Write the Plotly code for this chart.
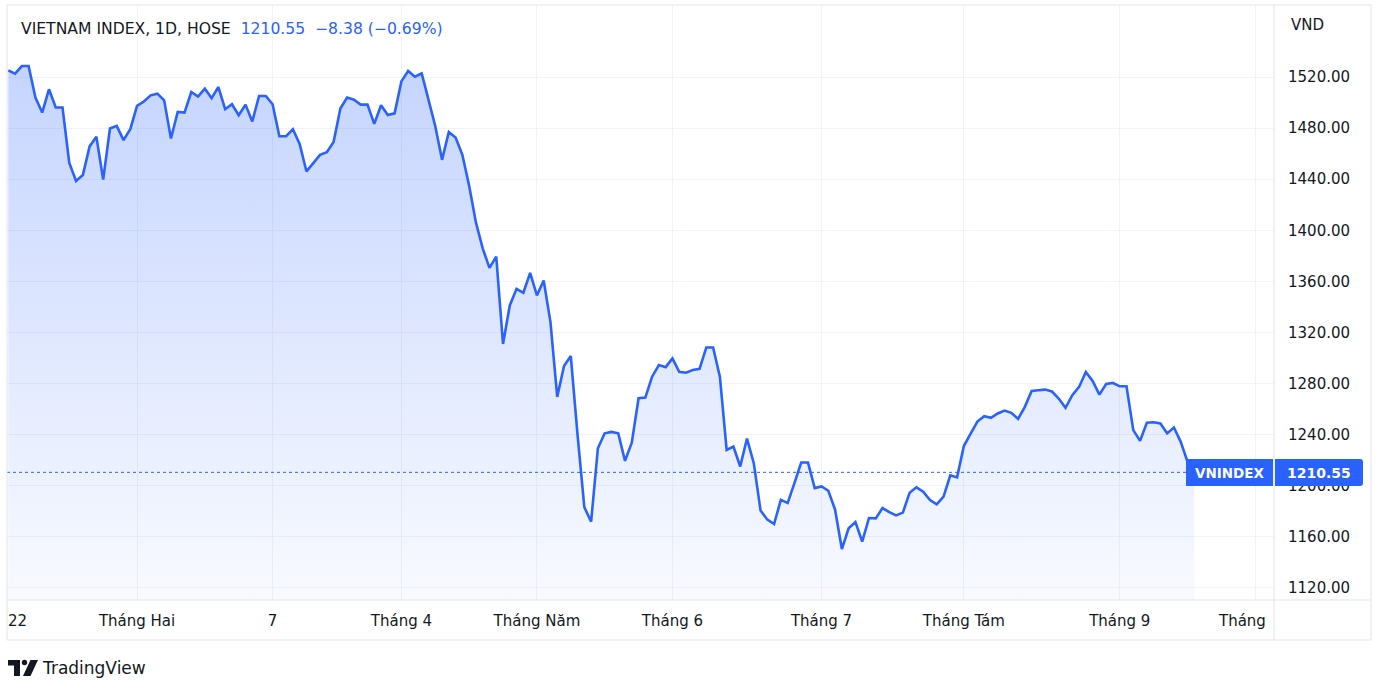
import plotly.graph_objects as go

# ---------------- data ----------------
values = [
    1525.2, 1522.6, 1528.6, 1528.6, 1503.9, 1492.2, 1510.4, 1496.1, 1496.1, 1452.7,
    1438.6, 1443.3, 1465.7, 1473.2, 1439.7, 1479.7, 1481.8, 1470.6, 1479.2, 1497.4,
    1500.8, 1505.7, 1507.0, 1501.8, 1471.9, 1492.7, 1492.2, 1508.3, 1504.7, 1510.9,
    1503.4, 1512.2, 1494.8, 1498.7, 1490.1, 1498.4, 1485.2, 1505.2, 1505.2, 1498.7,
    1473.7, 1473.7, 1479.2, 1467.5, 1446.1, 1452.6, 1459.1, 1461.2, 1469.2, 1495.3,
    1503.9, 1502.3, 1498.4, 1498.4, 1483.3, 1497.9, 1490.3, 1491.6, 1516.6, 1524.7,
    1520.3, 1522.9, 1503.3, 1481.7, 1455.2, 1477.0, 1472.6, 1459.1, 1434.9, 1406.2,
    1385.9, 1370.6, 1379.4, 1311.0, 1341.2, 1354.2, 1351.1, 1366.7, 1349.0, 1360.7,
    1328.2, 1269.6, 1293.8, 1301.6, 1239.7, 1183.2, 1172.0, 1229.4, 1241.1, 1242.2,
    1241.1, 1219.5, 1233.8, 1268.5, 1269.0, 1285.4, 1294.5, 1292.9, 1299.7, 1289.3,
    1288.5, 1290.6, 1291.6, 1308.3, 1308.3, 1285.4, 1228.1, 1230.7, 1215.1, 1237.0,
    1217.7, 1180.7, 1173.5, 1170.1, 1189.1, 1186.5, 1202.1, 1218.2, 1218.2, 1198.2,
    1199.5, 1196.1, 1181.3, 1150.5, 1166.7, 1171.6, 1156.3, 1174.8, 1174.5, 1182.6,
    1179.4, 1176.8, 1179.0, 1194.6, 1198.8, 1195.4, 1188.9, 1185.5, 1191.5, 1208.2,
    1206.6, 1231.1, 1240.9, 1250.3, 1254.5, 1253.2, 1256.6, 1258.9, 1257.1, 1252.4,
    1261.8, 1274.3, 1274.8, 1275.3, 1273.8, 1268.3, 1261.0, 1270.9, 1277.4, 1289.1,
    1282.1, 1271.4, 1279.7, 1280.5, 1277.9, 1277.9, 1243.6, 1235.2, 1249.3, 1249.8,
    1248.8, 1241.0, 1245.6, 1234.4, 1218.93, 1210.55,
]
bar_index = list(range(len(values)))

month_tick_index = [19, 39, 58, 78, 98, 120, 141, 164, 184]
month_tick_text = ["Tháng Hai", "7", "Tháng 4", "Tháng Năm", "Tháng 6",
                   "Tháng 7", "Tháng Tám", "Tháng 9", ""]
price_ticks = [1120, 1160, 1200, 1240, 1280, 1320, 1360, 1400, 1440, 1480, 1520]

title_text = "VIETNAM INDEX, 1D, HOSE"
last_price = 1210.55
change_text = "−8.38 (−0.69%)"
symbol = "VNINDEX"
currency = "VND"

# ---------------- layout helpers ----------------
W, H = 1385, 694
PL, PR, PT, PB = 7, 1274, 5, 600          # pane box in pixels
BAR0_PX, BAR_STEP = 8.3, 6.777            # pixel of first bar, bar spacing
Y_TOP, Y_BOT = 1576.4, 1110.6

def fx(px):
    return (px - PL) / (PR - PL)

def fy(py):
    return (PB - py) / (PB - PT)

BLUE = "#2962ff"
TXT = "#131722"
GRID = "#f0f3fa"
BORDER = "#e0e3eb"
FONT = "DejaVu Sans"

fig = go.Figure()
fig.add_trace(go.Scatter(
    x=bar_index, y=[Y_BOT - 20] * len(values), mode="lines",
    line=dict(width=0, color="rgba(0,0,0,0)"), hoverinfo="skip", showlegend=False))
fig.add_trace(go.Scatter(
    x=bar_index, y=values, mode="lines",
    line=dict(color=BLUE, width=2.6),
    fill="tonexty",
    fillgradient=dict(type="vertical",
                      colorscale=[[0, "rgba(41,98,255,0.03)"], [1, "rgba(41,98,255,0.27)"]],
                      start=Y_BOT, stop=1530),
    showlegend=False))

shapes = []
# dotted last-price line
shapes.append(dict(type="line", xref="paper", yref="y", x0=0, x1=fx(1186),
                   y0=last_price, y1=last_price,
                   line=dict(color=BLUE, width=1, dash="dot")))
# frame lines
def hline(py, x0, x1):
    shapes.append(dict(type="line", xref="paper", yref="paper", x0=fx(x0), x1=fx(x1),
                       y0=fy(py), y1=fy(py), line=dict(color=BORDER, width=1)))
def vline(px, y0, y1):
    shapes.append(dict(type="line", xref="paper", yref="paper", x0=fx(px), x1=fx(px),
                       y0=fy(y0), y1=fy(y1), line=dict(color=BORDER, width=1)))
hline(5, 7, 1371)
hline(600, 7, 1371)
hline(640, 7, 1371)
vline(7, 5, 640)
vline(1274, 5, 640)
vline(1371, 5, 640)

# symbol label box
shapes.append(dict(type="rect", xref="paper", yref="paper",
                   x0=fx(1186), x1=fx(1273), y0=fy(486), y1=fy(459),
                   fillcolor=BLUE, line=dict(width=0)))
# price label box with rounded right corners
def P(px, py):
    return f"{fx(px):.6f},{fy(py):.6f}"
r = 3
path = (f"M {P(1275,459)} L {P(1363-r,459)} Q {P(1363,459)} {P(1363,459+r)} "
        f"L {P(1363,486-r)} Q {P(1363,486)} {P(1363-r,486)} L {P(1275,486)} Z")
shapes.append(dict(type="path", xref="paper", yref="paper", path=path,
                   fillcolor=BLUE, line=dict(width=0)))

# TradingView logo (approximation)
shapes.append(dict(type="rect", xref="paper", yref="paper",
                   x0=fx(8), x1=fx(20), y0=fy(665.5), y1=fy(660), fillcolor=TXT, line=dict(width=0)))
shapes.append(dict(type="rect", xref="paper", yref="paper",
                   x0=fx(14), x1=fx(20), y0=fy(676), y1=fy(660), fillcolor=TXT, line=dict(width=0)))
shapes.append(dict(type="circle", xref="paper", yref="paper",
                   x0=fx(21.8), x1=fx(27.2), y0=fy(665.2), y1=fy(659.8), fillcolor=TXT, line=dict(width=0)))
shapes.append(dict(type="path", xref="paper", yref="paper",
                   path=f"M {P(30.5,660)} L {P(38,660)} L {P(30.5,676)} L {P(23,676)} Z",
                   fillcolor=TXT, line=dict(width=0)))

annotations = []
def ann(text, px, py, anchor="left", size=15, color=TXT, family=FONT, **kw):
    annotations.append(dict(text=text, xref="paper", yref="paper", x=fx(px), y=fy(py),
                            xanchor=anchor, yanchor="middle", showarrow=False,
                            font=dict(family=family, size=size, color=color), **kw))

ann(f"{title_text}&nbsp;&nbsp;<span style='color:{BLUE}'>{last_price:.2f}&nbsp;&nbsp;{change_text}</span>",
    19, 29, size=15.6)
ann(currency, 1289, 25, size=15)
ann("22", 6, 621, size=15)
ann("Tháng", 1216, 621, size=15)
ann(f"<b>{symbol}</b>", 1229.5, 472.5, anchor="center", size=13.5, color="white")
ann(f"<b>{last_price:.2f}</b>", 1319, 472.5, anchor="center", size=14, color="white")
ann("TradingView", 40, 668, size=17)

fig.update_layout(
    width=W, height=H,
    margin=dict(l=PL, r=W - PR, t=PT, b=H - PB),
    paper_bgcolor="white", plot_bgcolor="white",
    showlegend=False,
    xaxis=dict(range=[(PL - BAR0_PX) / BAR_STEP, (PR - BAR0_PX) / BAR_STEP],
               tickmode="array", tickvals=month_tick_index, ticktext=month_tick_text,
               showgrid=True, gridcolor=GRID, gridwidth=1, zeroline=False, showline=False,
               ticks="", ticklabelstandoff=10,
               tickfont=dict(family=FONT, size=15, color=TXT), fixedrange=True),
    yaxis=dict(range=[Y_BOT, Y_TOP], side="right",
               tickmode="array", tickvals=price_ticks, tickformat=".2f",
               showgrid=True, gridcolor=GRID, gridwidth=1, zeroline=False, showline=False,
               ticks="", ticklabelstandoff=13,
               tickfont=dict(family=FONT, size=15, color=TXT), fixedrange=True),
    shapes=shapes, annotations=annotations,
)

fig.write_html("out.html", config={"displayModeBar": False},
               post_script="document.body.style.margin='0';")
